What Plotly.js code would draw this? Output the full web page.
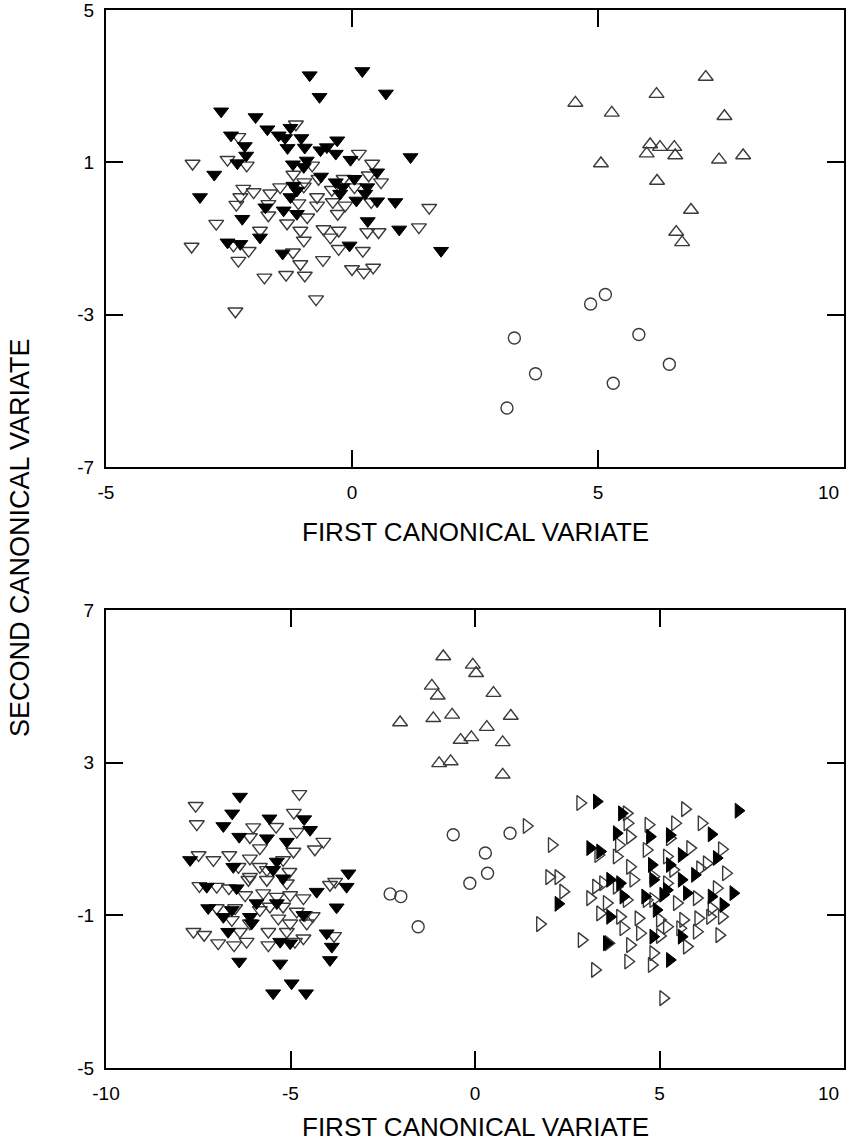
<!DOCTYPE html>
<html>
<head>
<meta charset="utf-8">
<script src="https://cdn.plot.ly/plotly-3.0.1.min.js"></script>
<style>html,body{margin:0;padding:0;background:#fff;}#chart{width:850px;height:1142px;}</style>
</head>
<body>
<div id="chart"></div>
<script>
// ---------- TOP PANEL ----------
const topFilledDownX = [-0.86,0.21,-0.66,0.69,-2.66,-1.96,-1.72,-1.49,-1.36,-1.25,-1.03,-2.46,-2.18,-2.15,-2.33,-1.31,-0.96,-0.64,-0.51,-0.30,-0.33,-0.03,1.19,-1.20,-0.98,-0.92,-2.80,-0.63,-0.33,0.05,0.51,-1.19,-1.12,-0.19,0.31,-3.09,-0.24,0.09,0.27,0.51,0.88,-1.76,-1.39,-1.12,-2.23,0.32,0.96,-1.87,-2.53,-2.27,-1.41,-0.05,1.81,-1.25];
const topFilledDownY = [3.29,3.40,2.72,2.81,2.34,2.19,1.87,1.71,1.64,1.91,1.64,1.71,1.43,1.18,0.98,1.38,1.39,1.32,1.40,1.58,1.23,1.07,1.14,0.95,0.88,1.05,0.68,0.63,0.48,0.57,0.74,0.39,0.26,0.35,0.35,0.09,0.18,0.00,0.18,-0.02,-0.04,-0.18,-0.26,-0.35,-0.48,-0.54,-0.76,-0.97,-1.10,-1.14,-1.39,-1.18,-1.32,0.09];
const topOpenDownX = [-1.14,-2.31,-3.24,-2.53,-2.14,0.14,0.41,-0.81,-1.19,-0.97,-0.68,-0.17,0.34,0.59,-2.21,-2.00,-2.27,-1.66,-1.46,-0.98,-0.71,-0.41,0.05,-2.35,-1.70,-1.09,-0.71,-0.39,-0.14,0.39,1.57,-1.70,-1.32,-0.91,-0.29,-2.76,-1.87,-1.05,-0.58,-0.27,0.31,0.54,1.36,-3.26,-2.41,-2.10,-2.31,-0.98,-0.44,-0.27,0.22,-1.20,-1.05,-0.59,-1.78,-1.34,-0.96,0.00,0.24,0.43,-0.73,-2.37];
const topOpenDownY = [2.00,1.67,0.97,1.07,0.92,1.23,0.97,0.92,0.68,0.48,0.57,0.57,0.66,0.48,0.31,0.22,0.09,0.19,0.35,0.37,0.09,0.28,0.35,-0.11,-0.09,-0.07,-0.13,-0.04,-0.13,-0.04,-0.19,-0.39,-0.60,-0.44,-0.35,-0.61,-0.79,-0.79,-0.75,-0.79,-0.83,-0.83,-0.70,-1.21,-1.18,-1.32,-1.58,-1.05,-0.97,-1.27,-1.32,-1.36,-1.67,-1.56,-2.02,-1.95,-1.97,-1.80,-1.89,-1.76,-2.59,-2.91];
const topOpenUpX = [7.19,6.19,4.54,5.28,7.57,6.06,6.26,6.55,5.99,6.57,7.46,7.95,5.06,6.20,6.89,6.59,6.71];
const topOpenUpY = [3.24,2.79,2.56,2.30,2.21,1.47,1.40,1.40,1.23,1.18,1.07,1.18,0.97,0.51,-0.25,-0.83,-1.10];
const topCircleX = [5.15,4.85,3.30,5.83,6.45,3.73,5.31,3.15];
const topCircleY = [-2.47,-2.72,-3.61,-3.52,-4.30,-4.55,-4.80,-5.45];

// ---------- BOTTOM PANEL ----------
const botOpenDownX = [-4.76,-7.57,-7.54,-4.91,-6.01,-6.10,-4.83,-5.39,-4.11,-4.34,-7.49,-7.09,-6.66,-6.10,-5.83,-4.92,-6.41,-5.83,-5.20,-7.47,-7.00,-6.67,-6.14,-5.64,-5.03,-3.93,-3.79,-6.23,-5.74,-5.37,-5.01,-4.65,-7.00,-6.50,-5.83,-5.56,-5.20,-4.83,-4.40,-6.59,-6.10,-5.33,-5.01,-4.56,-7.63,-7.34,-6.37,-5.60,-5.10,-4.65,-6.96,-6.53,-6.19,-5.60,-4.88,-3.82,-5.64,-6.10,-5.10,-4.61];
const botOpenDownY = [2.18,1.87,1.39,1.69,1.31,1.05,1.19,1.32,0.93,0.73,0.58,0.45,0.58,0.49,0.76,0.67,0.27,0.27,0.45,-0.23,-0.25,-0.29,-0.07,-0.07,0.14,-0.20,-0.12,-0.47,-0.42,-0.51,-0.47,-0.55,-0.81,-0.81,-0.86,-0.77,-0.77,-0.90,-1.02,-1.12,-1.21,-1.08,-1.21,-1.21,-1.43,-1.51,-1.43,-1.43,-1.43,-1.60,-1.73,-1.78,-1.69,-1.78,-1.69,-1.54,0.19,0.01,-0.16,-0.99];
const botFilledDownX = [-6.37,-6.58,-6.82,-5.57,-4.63,-4.47,-6.39,-5.64,-5.10,-7.72,-6.55,-5.47,-5.37,-3.43,-3.48,-4.29,-6.46,-3.75,-7.23,-6.82,-6.59,-6.10,-5.92,-5.37,-4.65,-6.69,-6.05,-5.28,-5.01,-3.88,-3.93,-6.39,-5.28,-4.97,-5.47,-4.58,-5.20,-4.02,-7.27];
const botFilledDownY = [2.11,1.67,1.34,1.54,1.52,1.24,1.06,1.02,0.93,0.45,0.27,0.19,0.41,0.10,-0.25,-0.38,-0.29,-0.79,-0.81,-1.04,-0.86,-1.04,-0.68,-0.68,-0.99,-1.43,-1.21,-1.69,-1.73,-1.82,-2.17,-2.21,-2.26,-2.78,-3.04,-3.04,-0.03,-1.47,-0.25];
const botOpenUpX = [-0.86,-0.06,0.03,-1.17,-1.01,0.50,-2.03,-1.13,-0.62,0.97,0.32,-0.39,-0.10,0.75,-0.97,-0.66,0.75];
const botOpenUpY = [5.78,5.56,5.34,5.01,4.75,4.82,4.05,4.16,4.25,4.22,3.93,3.59,3.66,3.53,2.98,3.03,2.68];
const botCircleX = [-0.59,0.95,0.28,0.34,-0.14,-2.30,-2.01,-1.54];
const botCircleY = [1.11,1.15,0.63,0.10,-0.16,-0.44,-0.51,-1.30];
const botOpenRightX = [2.85,1.40,2.08,2.01,2.26,2.39,1.76,5.69,6.14,5.42,6.69,4.11,4.13,4.20,4.70,3.90,5.28,5.83,3.34,3.84,4.65,5.20,6.28,6.80,4.20,6.10,3.28,3.84,4.29,4.83,5.20,6.55,3.12,3.57,4.11,4.65,5.47,6.01,6.41,3.39,3.93,4.43,5.01,5.64,6.05,6.37,6.69,4.02,4.47,5.20,5.56,6.01,6.62,2.89,3.61,4.20,5.01,5.74,4.15,4.83,4.79,3.25,5.10,3.47,4.83,5.37];
const botOpenRightY = [1.94,1.34,0.84,0.00,0.00,-0.38,-1.23,1.78,1.41,1.41,0.73,1.67,1.41,1.06,1.37,0.84,1.02,0.76,0.58,0.54,0.71,0.54,0.36,0.10,0.27,0.23,-0.25,-0.25,-0.07,0.01,-0.16,-0.29,-0.55,-0.68,-0.60,-0.60,-0.68,-0.55,-0.82,-0.95,-1.04,-1.08,-1.12,-1.12,-1.08,-1.04,-1.04,-1.34,-1.47,-1.30,-1.34,-1.43,-1.52,-1.65,-1.73,-1.78,-1.54,-1.82,-2.21,-1.99,-2.30,-2.43,-3.17,-0.16,-0.60,0.19];
const botFilledRightX = [3.30,7.14,3.98,3.84,6.41,4.74,5.28,3.12,3.39,5.60,6.55,4.79,5.28,5.96,5.60,3.66,3.93,4.83,7.00,6.41,5.74,5.20,4.02,4.61,6.73,4.92,3.66,2.26,4.83,5.60,3.57,5.28,5.10];
const botFilledRightY = [1.98,1.74,1.67,1.15,1.12,1.06,1.10,0.76,0.67,0.58,0.50,0.32,0.32,0.06,-0.07,-0.07,-0.16,-0.07,-0.42,-0.51,-0.42,-0.34,-0.51,-0.51,-0.73,-0.86,-1.04,-0.70,-1.56,-1.56,-1.73,-2.17,-0.46];

const topXTicks = [-5,0,5,10];
const topYTicks = [-7,-3,1,5];
const botXTicks = [-10,-5,0,5,10];
const botYTicks = [-5,-1,3,7];
const xTitle = 'FIRST CANONICAL VARIATE';
const yTitle = 'SECOND CANONICAL VARIATE';

function tr(x, y, sym, filled, ax, size){
  return {
    x:x, y:y, type:'scatter', mode:'markers', xaxis:ax[0], yaxis:ax[1], showlegend:false, hoverinfo:'x+y',
    marker:{symbol:sym, size:size||13, color: filled ? '#000' : '#3a3a3a',
      line: {color: filled ? '#000' : '#3a3a3a', width: filled ? 1 : 1.4}}
  };
}
const T = ['x','y'], B = ['x2','y2'];
const data = [
  tr(topOpenDownX, topOpenDownY, 'triangle-down-open', false, T),
  tr(topFilledDownX, topFilledDownY, 'triangle-down', true, T),
  tr(topOpenUpX, topOpenUpY, 'triangle-up-open', false, T),
  tr(topCircleX, topCircleY, 'circle-open', false, T, 12),
  tr(botOpenDownX, botOpenDownY, 'triangle-down-open', false, B),
  tr(botFilledDownX, botFilledDownY, 'triangle-down', true, B),
  tr(botOpenUpX, botOpenUpY, 'triangle-up-open', false, B),
  tr(botCircleX, botCircleY, 'circle-open', false, B, 12),
  tr(botOpenRightX, botOpenRightY, 'triangle-right-open', false, B),
  tr(botFilledRightX, botFilledRightY, 'triangle-right', true, B)
];

const fam = 'Liberation Sans, Arial, sans-serif';
const tickFont = {family:fam, size:19, color:'#000'};
// the last x label sits at the frame's right edge; it is drawn inward as an annotation
function labels(ticks, isX){
  return ticks.map((t,i) => (isX && i === ticks.length-1) ? '' : String(t));
}
function axis(range, ticks, domain, anchor, isX){
  return {range:range, tickvals:ticks, ticktext:labels(ticks, isX), domain:domain, anchor:anchor,
    showgrid:false, zeroline:false, showline:true, linecolor:'#000', linewidth:2,
    mirror:'ticks', ticks:'inside', ticklen:17, tickwidth:2, tickcolor:'#000',
    tickfont:tickFont, ticklabeloverflow:'allow', ticklabelstandoff: isX ? 7 : 6, fixedrange:true};
}
const xTitleFont = {family:fam, size:26, color:'#000'};
const yTitleFont = {family:fam, size:27, color:'#000'};
function edgeLabel(ticks, xref, py){
  const v = ticks[ticks.length-1];
  return {text:String(v), xref:xref, yref:'paper', x:v, y:(1068-py)/1058, xanchor:'right', yanchor:'middle',
    xshift:-3, showarrow:false, font:tickFont};
}
const layout = {
  width:850, height:1142,
  margin:{l:106, r:6, t:10, b:74},
  paper_bgcolor:'#fff', plot_bgcolor:'#fff',
  xaxis: axis([-5,10], topXTicks, [0,1], 'y', true),
  yaxis: axis([-7,5], topYTicks, [0.568,1], 'x', false),
  xaxis2: axis([-10,10], botXTicks, [0,1], 'y2', true),
  yaxis2: axis([-5,7], botYTicks, [0,0.433], 'x2', false),
  annotations:[
    edgeLabel(topXTicks, 'x', 492),
    edgeLabel(botXTicks, 'x2', 1093),
    {text:xTitle, xref:'paper', yref:'paper', x:0.5, y:0.5065, xanchor:'center', yanchor:'middle', showarrow:false, font:xTitleFont},
    {text:xTitle, xref:'paper', yref:'paper', x:0.5, y:-0.0555, xanchor:'center', yanchor:'middle', showarrow:false, font:xTitleFont},
    {text:yTitle, xref:'paper', yref:'paper', x:-0.1165, y:0.501, xanchor:'center', yanchor:'middle',
      textangle:-90, showarrow:false, font:yTitleFont}
  ]
};
Plotly.newPlot('chart', data, layout, {displayModeBar:false, staticPlot:true});
</script>
</body>
</html>
